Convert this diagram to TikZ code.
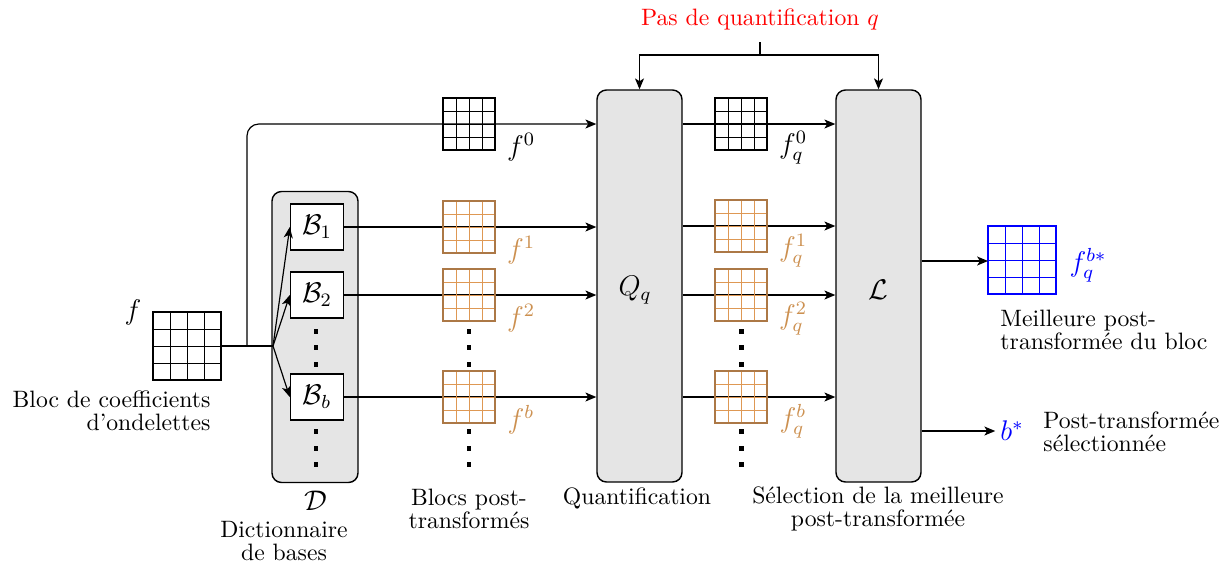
\documentclass[tikz,border=0pt]{standalone}
\usetikzlibrary{arrows.meta}
\definecolor{brO}{RGB}{172,120,70}
\definecolor{brI}{RGB}{222,152,84}
\definecolor{brT}{RGB}{204,144,80}
\definecolor{boxfill}{RGB}{229,229,229}
\newdimen\pxu
\pxu=0.422pt
\tikzset{
  arr/.style={-{Stealth[length=4.6pt,width=3.8pt,inset=1.2pt]}, line width=0.5pt},
  conn/.style={line width=0.5pt},
  bigbox/.style={draw, line width=0.6pt, fill=boxfill, rounded corners=4pt, inner sep=0pt},
  basebox/.style={draw, line width=0.6pt, fill=white, minimum width=53*\pxu, minimum height=46*\pxu, inner sep=0pt, font=\large},
  dotsq/.style={fill=black, minimum size=2.1pt, inner sep=0pt},
  lbl/.style={font=\normalsize, inner sep=0pt},
  mlbl/.style={font=\large, inner sep=0pt}
}
\newcommand\cellgrid[6]{%
  \node[draw=#5, line width=0.6pt, minimum size=2*#4*\pxu, inner sep=0pt, outer sep=0pt] (#1) at (#2,#3) {};
  \foreach \k in {-1,0,1}{
    \draw[#6, line width=0.42pt] ({#2+\k*#4/2},{#3-#4+1}) -- ({#2+\k*#4/2},{#3+#4-1});
    \draw[#6, line width=0.42pt] ({#2-#4+1},{#3+\k*#4/2}) -- ({#2+#4-1},{#3+\k*#4/2});
  }}
\begin{document}
\begin{tikzpicture}[x=0.422pt,y=-0.422pt]
\useasboundingbox (0,0) rectangle (1221,563);

% big boxes
\node[bigbox, minimum width=86*\pxu, minimum height=291*\pxu] (D) at (315,337) {};
\node[bigbox, minimum width=85*\pxu, minimum height=392*\pxu] (Q) at (639.5,286) {};
\node[bigbox, minimum width=85*\pxu, minimum height=392*\pxu] (L) at (878.5,286) {};
\node[mlbl] (Qq) at (635,290) {$Q_q$};
\node[mlbl] (Ll) at (878,290) {$\mathcal{L}$};

% bases
\node[basebox] (B1) at (317,227) {$\mathcal{B}_1$};
\node[basebox] (B2) at (317,295) {$\mathcal{B}_2$};
\node[basebox] (Bb) at (317,397) {$\mathcal{B}_b$};
\foreach \yy [count=\i] in {331,347.5,364,431,448,464.5}{
  \node[dotsq] (dd\i) at (316,\yy) {};
  \node[dotsq] (df\i) at (469,\yy) {};
  \node[dotsq] (dq\i) at (741,\yy) {};
}

% input block
\coordinate (br) at (273,346);
\coordinate (sp) at (247,346);
\draw[conn] (187,346) -- (br);
\draw[arr, rounded corners=5pt] (sp) |- (Q.west |- 0,124);
\foreach \b in {B1,B2,Bb}{ \draw[arr] (br) -- (\b.west); }
\draw[arr] (B1.east) -- (Q.west |- B1.east);
\draw[arr] (B2.east) -- (Q.west |- B2.east);
\draw[arr] (Bb.east) -- (Q.west |- Bb.east);

% Q to L
\foreach \yy in {124,226,295,397}{
  \draw[arr] (Q.east |- 0,\yy) -- (L.west |- 0,\yy);
}

% grids
\node[fill=white, minimum size=68*\pxu, inner sep=0pt] (fg) at (187,346) {};
\cellgrid{fgrid}{187}{346}{34}{black}{black}
\cellgrid{g0}{469}{124}{26}{black}{black}
\cellgrid{g1}{469}{227}{26}{brO}{brI}
\cellgrid{g2}{469}{295}{26}{brO}{brI}
\cellgrid{gb}{469}{397}{26}{brO}{brI}
\cellgrid{q0}{741}{124}{26}{black}{black}
\cellgrid{q1}{741}{226}{26}{brO}{brI}
\cellgrid{q2}{741}{295}{26}{brO}{brI}
\cellgrid{qb}{741}{397}{26}{brO}{brI}
\cellgrid{bg}{1022}{260}{34}{blue}{blue}

% grid labels
\node[mlbl] (lf) at (133,312) {$f$};
\node[mlbl] (l0) at (521,147) {$f^0$};
\node[mlbl, text=brT] (l1) at (521,250) {$f^1$};
\node[mlbl, text=brT] (l2) at (521,318) {$f^2$};
\node[mlbl, text=brT] (lb) at (521,420) {$f^b$};
\node[mlbl] (lq0) at (793,148) {$f_q^0$};
\node[mlbl, text=brT] (lq1) at (793,251) {$f_q^1$};
\node[mlbl, text=brT] (lq2) at (793,319) {$f_q^2$};
\node[mlbl, text=brT] (lqb) at (793,421) {$f_q^b$};
\node[mlbl, text=blue] (lbs) at (1088,265) {$f_q^{b*}$};

% outputs
\draw[arr] (L.east |- 0,261) -- (bg.west |- 0,261);
\node[mlbl, text=blue, inner sep=2pt] (bs) at (1012,431) {$b^*$};
\draw[arr] (L.east |- bs) -- (bs.west);

% quantification step
\node[lbl, text=red] (pas) at (760,19) {Pas de quantification $q$};
\coordinate (pt) at (760,42);
\coordinate (pj) at (760,55);
\draw[conn] (pt) -- (pj);
\draw[arr] (pj) -| (Q.north);
\draw[arr] (pj) -| (L.north);

% text labels
\node[lbl, align=right, anchor=east] (tbloc) at (211,411) {Bloc de coefficients\\[-2.2pt]d'ondelettes};
\node[mlbl] (tD) at (316,501) {$\mathcal{D}$};
\node[lbl, align=center] (tdict) at (284,541) {Dictionnaire\\[-2.2pt]de bases};
\node[lbl, align=center] (tblocs) at (469,509) {Blocs post-\\[-2.2pt]transformés};
\node[lbl] (tquant) at (637,498) {Quantification};
\node[lbl, align=center] (tsel) at (878,509) {Sélection de la meilleure\\[-2.2pt]post-transformée};
\node[lbl, align=left, anchor=west] (tmeil) at (1000,330) {Meilleure post-\\[-2.2pt]transformée du bloc};
\node[lbl, align=left, anchor=west] (tpost) at (1043,432) {Post-transformée\\[-2.2pt]sélectionnée};
\end{tikzpicture}
\end{document}
